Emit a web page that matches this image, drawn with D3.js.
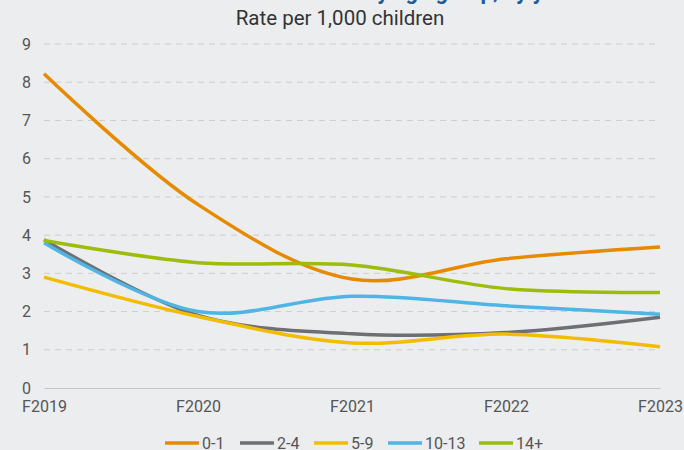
<!DOCTYPE html>
<html>
<head>
<meta charset="utf-8">
<script src="https://cdn.jsdelivr.net/npm/d3@7"></script>
<style>
  html, body { margin: 0; padding: 0; background: #ecedef; }
  svg { display: block; }
</style>
</head>
<body>
<svg id="chart" width="684" height="450"></svg>
<script>
// Fiscal years on the x axis
const years = ["F2019", "F2020", "F2021", "F2022", "F2023"];

// Rate per 1,000 children, one array per age group
const age0to1   = [8.22, 4.8, 2.85, 3.38, 3.69];
const age2to4   = [3.88, 1.9, 1.42, 1.45, 1.85];
const age5to9   = [2.9, 1.87, 1.18, 1.41, 1.08];
const age10to13 = [3.8, 2.0, 2.4, 2.15, 1.93];
const age14plus = [3.86, 3.28, 3.22, 2.6, 2.5];

const seriesNames = ["0-1", "2-4", "5-9", "10-13", "14+"];
const seriesColors = ["#e68a00", "#6d6f73", "#f2bd00", "#4fb5e5", "#9cbd0b"];
const yTicks = [0, 1, 2, 3, 4, 5, 6, 7, 8, 9];

const series = [age0to1, age2to4, age5to9, age10to13, age14plus].map((vals, i) => ({
  name: seriesNames[i],
  color: seriesColors[i],
  values: vals.map((v, j) => ({ year: years[j], value: v }))
}));

const svg = d3.select("#chart");
const margin = { left: 44, right: 24, top: 44, bottom: 62 };
const W = 684, H = 450;

const x = d3.scalePoint().domain(years).range([margin.left, W - margin.right]);
const y = d3.scaleLinear().domain([0, 9]).range([H - margin.bottom, margin.top]);

const font = "Roboto, 'Liberation Sans', Arial, sans-serif";

// Title (runs off the top edge) and subtitle
svg.append("text")
  .attr("x", 390).attr("y", -1)
  .attr("text-anchor", "middle")
  .attr("font-family", font).attr("font-weight", "bold")
  .attr("font-size", 22).attr("fill", "#1f5c99")
  .text("Children in care by age group, by year");

svg.append("text")
  .attr("x", 340).attr("y", 25)
  .attr("text-anchor", "middle")
  .attr("font-family", font).attr("font-size", 20.5)
  .attr("fill", "#333")
  .text("Rate per 1,000 children");

// Dashed horizontal gridlines
svg.append("g")
  .selectAll("line")
  .data(yTicks.filter(d => d > 0))
  .join("line")
  .attr("x1", margin.left).attr("x2", W - margin.right)
  .attr("y1", d => y(d)).attr("y2", d => y(d))
  .attr("stroke", "#cdcdcd").attr("stroke-width", 1)
  .attr("stroke-dasharray", "6,5");

// Y axis labels
const yAxis = svg.append("g")
  .attr("transform", `translate(${margin.left},0)`)
  .call(d3.axisLeft(y).tickValues(yTicks).tickSize(0).tickPadding(13));
yAxis.select(".domain").remove();
yAxis.selectAll("text")
  .attr("font-family", font).attr("font-size", 16).attr("fill", "#555");

// X axis: baseline plus year labels
const xAxis = svg.append("g")
  .attr("transform", `translate(0,${y(0)})`)
  .call(d3.axisBottom(x).tickSize(0).tickPadding(13));
xAxis.select(".domain").attr("stroke", "#c8c8c8").attr("stroke-width", 1.2);
xAxis.selectAll("text")
  .attr("font-family", font).attr("font-size", 16).attr("fill", "#555");

// Smoothed lines
const line = d3.line()
  .x(d => x(d.year))
  .y(d => y(d.value))
  .curve(d3.curveCatmullRom.alpha(0.5));

svg.append("g")
  .selectAll("path")
  .data(series)
  .join("path")
  .attr("d", d => line(d.values))
  .attr("fill", "none")
  .attr("stroke", d => d.color)
  .attr("stroke-width", 3.5)
  .attr("stroke-linecap", "butt");

// Legend
const legendX = [165, 240, 314, 388, 479];
const legend = svg.append("g")
  .selectAll("g")
  .data(series)
  .join("g")
  .attr("transform", (d, i) => `translate(${legendX[i]},443)`);
legend.append("line")
  .attr("x1", 0).attr("x2", 34)
  .attr("stroke", d => d.color).attr("stroke-width", 3.5);
legend.append("text")
  .attr("x", 37).attr("dy", "0.35em")
  .attr("font-family", font).attr("font-size", 16).attr("fill", "#555")
  .text(d => d.name);
</script>
</body>
</html>
